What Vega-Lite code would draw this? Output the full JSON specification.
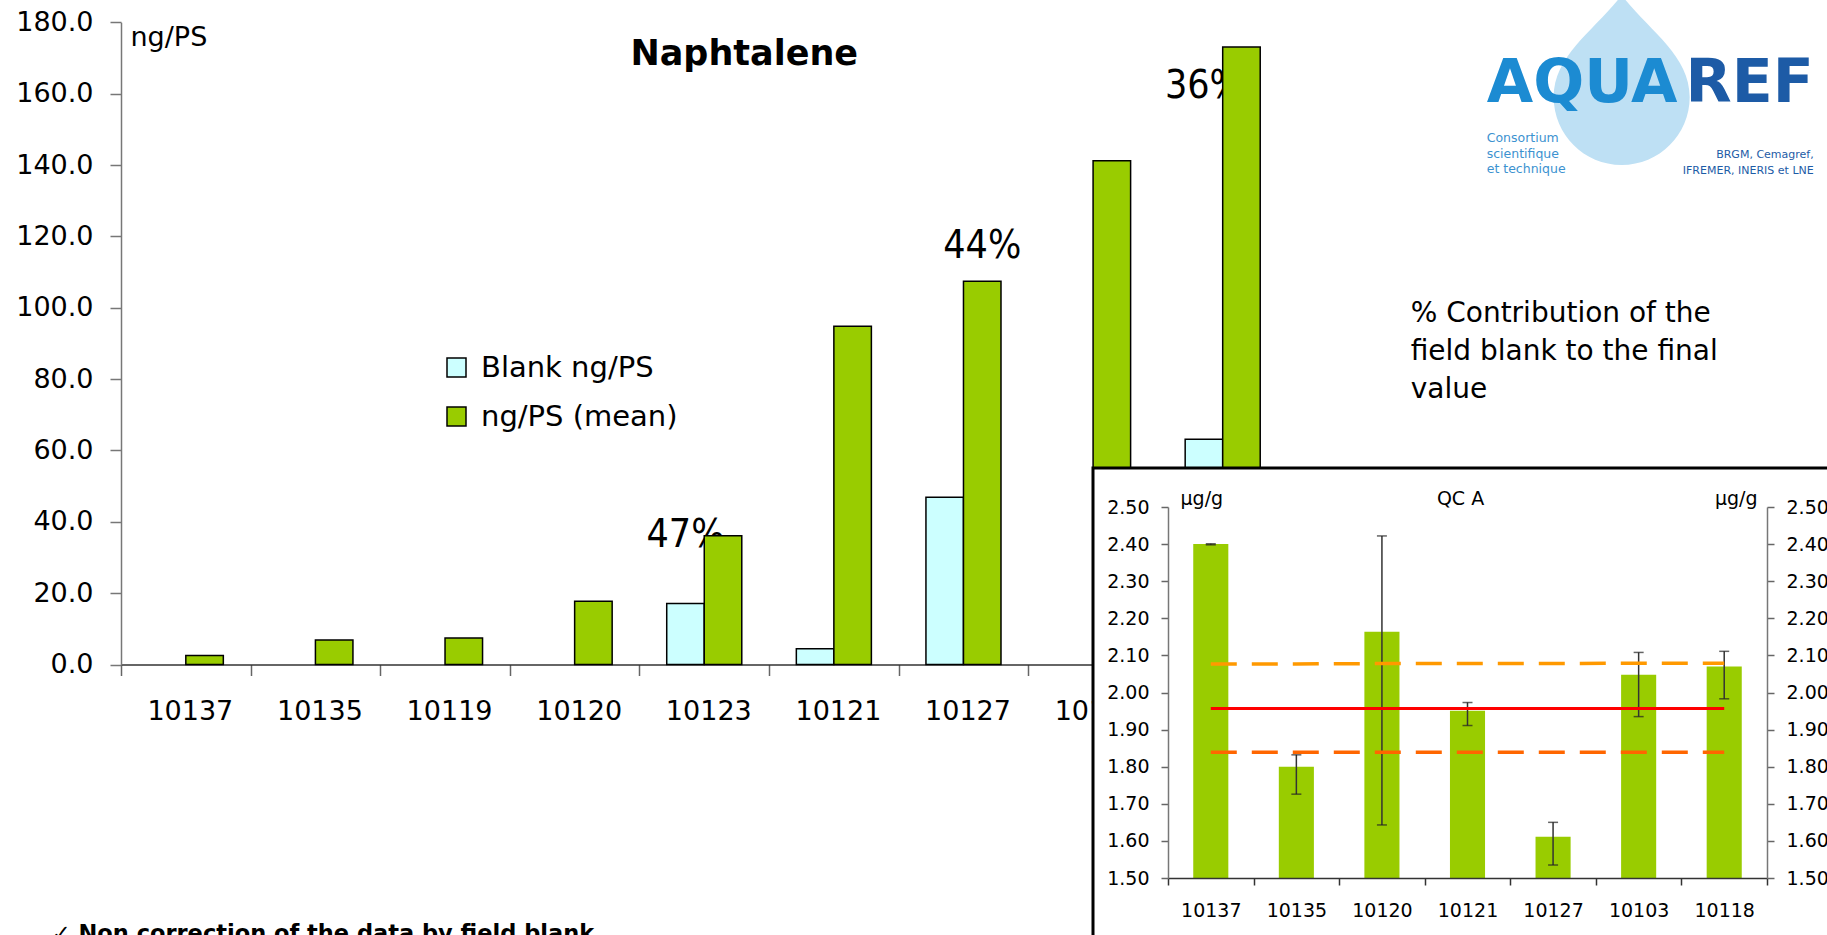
{
  "$schema": "https://vega.github.io/schema/vega-lite/v6.json",
  "width": 1827,
  "height": 935,
  "autosize": {"type": "none"},
  "padding": 0,
  "background": "white",
  "config": {
    "view": {"stroke": null},
    "font": "DejaVu Sans",
    "axis": {"grid": false, "labelColor": "black", "titleColor": "black", "labelFont": "DejaVu Sans", "titleFont": "DejaVu Sans", "titleFontWeight": "normal"}
  },
  "datasets": {
    "main": [
      {"cat": "10137", "series": "ng/PS (mean)", "v": 2.5},
      {"cat": "10135", "series": "ng/PS (mean)", "v": 6.9},
      {"cat": "10119", "series": "ng/PS (mean)", "v": 7.4},
      {"cat": "10120", "series": "ng/PS (mean)", "v": 17.7},
      {"cat": "10123", "series": "Blank ng/PS", "v": 17.1},
      {"cat": "10123", "series": "ng/PS (mean)", "v": 36.1},
      {"cat": "10121", "series": "Blank ng/PS", "v": 4.4},
      {"cat": "10121", "series": "ng/PS (mean)", "v": 94.8},
      {"cat": "10127", "series": "Blank ng/PS", "v": 46.9},
      {"cat": "10127", "series": "ng/PS (mean)", "v": 107.4},
      {"cat": "10103", "series": "ng/PS (mean)", "v": 141.2},
      {"cat": "10118", "series": "Blank ng/PS", "v": 63.1},
      {"cat": "10118", "series": "ng/PS (mean)", "v": 173.1}
    ],
    "inset": [
      {"cat": "10137", "v": 2.40, "lo": 2.398, "hi": 2.401},
      {"cat": "10135", "v": 1.80, "lo": 1.726, "hi": 1.832},
      {"cat": "10120", "v": 2.164, "lo": 1.643, "hi": 2.422},
      {"cat": "10121", "v": 1.951, "lo": 1.911, "hi": 1.973},
      {"cat": "10127", "v": 1.611, "lo": 1.535, "hi": 1.650},
      {"cat": "10103", "v": 2.048, "lo": 1.935, "hi": 2.108},
      {"cat": "10118", "v": 2.070, "lo": 1.983, "hi": 2.111}
    ],
    "lines": [
      {"cat": "10137", "line": "mean", "v": 1.957},
      {"cat": "10135", "line": "mean", "v": 1.957},
      {"cat": "10120", "line": "mean", "v": 1.957},
      {"cat": "10121", "line": "mean", "v": 1.957},
      {"cat": "10127", "line": "mean", "v": 1.957},
      {"cat": "10103", "line": "mean", "v": 1.957},
      {"cat": "10118", "line": "mean", "v": 1.957},
      {"cat": "10137", "line": "upper", "v": 2.077},
      {"cat": "10135", "line": "upper", "v": 2.077},
      {"cat": "10120", "line": "upper", "v": 2.078},
      {"cat": "10121", "line": "upper", "v": 2.078},
      {"cat": "10127", "line": "upper", "v": 2.078},
      {"cat": "10103", "line": "upper", "v": 2.079},
      {"cat": "10118", "line": "upper", "v": 2.079},
      {"cat": "10137", "line": "lower", "v": 1.839},
      {"cat": "10135", "line": "lower", "v": 1.839},
      {"cat": "10120", "line": "lower", "v": 1.839},
      {"cat": "10121", "line": "lower", "v": 1.839},
      {"cat": "10127", "line": "lower", "v": 1.839},
      {"cat": "10103", "line": "lower", "v": 1.839},
      {"cat": "10118", "line": "lower", "v": 1.839}
    ]
  },
  "layer": [
    {
      "layer": [
        {
          "data": {"values": [{}]},
          "mark": {"type": "point", "shape": "M0,-1 C0.3,-0.6 0.8,-0.3 0.8,0.2 A0.8,0.8 0 1 1 -0.8,0.2 C-0.8,-0.3 -0.3,-0.6 0,-1 Z", "size": 28900, "filled": true, "fill": "#BEE0F4", "strokeWidth": 0, "opacity": 1, "xOffset": 399},
          "encoding": {"x": {"datum": "10118", "type": "nominal"}, "y": {"datum": 163.8, "type": "quantitative"}}
        },
        {
          "data": {"values": [{}]},
          "mark": {"type": "text", "text": "AQUA", "font": "DejaVu Sans", "fontWeight": "bold", "fontSize": 60, "color": "#1C8BD2", "align": "left", "baseline": "alphabetic", "dx": 264},
          "encoding": {"x": {"datum": "10118", "type": "nominal"}, "y": {"datum": 157.7, "type": "quantitative"}}
        },
        {
          "data": {"values": [{}]},
          "mark": {"type": "text", "text": "REF", "font": "DejaVu Sans", "fontWeight": "bold", "fontSize": 60, "color": "#1D5BA6", "align": "right", "baseline": "alphabetic", "dx": 591},
          "encoding": {"x": {"datum": "10118", "type": "nominal"}, "y": {"datum": 157.7, "type": "quantitative"}}
        },
        {
          "data": {"values": [{}]},
          "mark": {"type": "text", "text": ["Consortium", "scientifique", "et technique"], "lineHeight": 15.8, "font": "DejaVu Sans", "fontSize": 12.5, "color": "#3C92D0", "align": "left", "baseline": "alphabetic", "dx": 264},
          "encoding": {"x": {"datum": "10118", "type": "nominal"}, "y": {"datum": 146.5, "type": "quantitative"}}
        },
        {
          "data": {"values": [{}]},
          "mark": {"type": "text", "text": ["BRGM, Cemagref,", "IFREMER, INERIS et LNE"], "lineHeight": 15.6, "font": "DejaVu Sans", "fontSize": 11, "color": "#1D5BA6", "align": "right", "baseline": "alphabetic", "dx": 591},
          "encoding": {"x": {"datum": "10118", "type": "nominal"}, "y": {"datum": 141.9, "type": "quantitative"}}
        },
        {
          "data": {"values": [{}]},
          "mark": {"type": "text", "text": "Naphtalene", "font": "DejaVu Sans", "fontWeight": "bold", "fontSize": 35, "color": "black", "align": "center", "baseline": "alphabetic", "dx": 40},
          "encoding": {"x": {"datum": "10123", "type": "nominal"}, "y": {"datum": 168, "type": "quantitative"}}
        },
        {
          "data": {"values": [{}]},
          "mark": {"type": "text", "text": ["% Contribution of the", "field blank to the final", "value"], "lineHeight": 38, "font": "DejaVu Sans", "fontSize": 28, "color": "black", "align": "left", "baseline": "alphabetic", "dx": 188},
          "encoding": {"x": {"datum": "10118", "type": "nominal"}, "y": {"datum": 96, "type": "quantitative"}}
        },
        {
          "data": {"values": [{}]},
          "mark": {"type": "text", "text": "✓ Non correction of the data by field blank", "font": "DejaVu Sans", "fontWeight": "bold", "fontSize": 22.5, "color": "black", "align": "left", "baseline": "alphabetic", "dx": -134},
          "encoding": {"x": {"datum": "10137", "type": "nominal"}, "y": {"datum": -77.5, "type": "quantitative"}}
        },
        {
          "data": {"values": [{}]},
          "mark": {"type": "text", "text": "47%", "font": "Liberation Sans Narrow, DejaVu Sans Condensed, DejaVu Sans", "fontSize": 39, "color": "black", "align": "center", "baseline": "alphabetic"},
          "encoding": {"x": {"datum": "10123", "type": "nominal"}, "xOffset": {"datum": "Blank ng/PS", "type": "nominal"}, "y": {"datum": 32.9, "type": "quantitative"}}
        },
        {
          "data": {"values": [{}]},
          "mark": {"type": "text", "text": "44%", "font": "Liberation Sans Narrow, DejaVu Sans Condensed, DejaVu Sans", "fontSize": 39, "color": "black", "align": "center", "baseline": "alphabetic"},
          "encoding": {"x": {"datum": "10127", "type": "nominal"}, "xOffset": {"datum": "ng/PS (mean)", "type": "nominal"}, "y": {"datum": 113.9, "type": "quantitative"}}
        },
        {
          "data": {"values": [{}]},
          "mark": {"type": "text", "text": "36%", "font": "Liberation Sans Narrow, DejaVu Sans Condensed, DejaVu Sans", "fontSize": 39, "color": "black", "align": "center", "baseline": "alphabetic"},
          "encoding": {"x": {"datum": "10118", "type": "nominal"}, "xOffset": {"datum": "Blank ng/PS", "type": "nominal"}, "y": {"datum": 158.7, "type": "quantitative"}}
        },
        {
          "data": {"name": "main"},
          "mark": {"type": "bar", "stroke": "black", "strokeWidth": 1.5},
          "encoding": {
            "x": {
              "field": "cat", "type": "nominal", "sort": null,
              "scale": {"domain": ["10137", "10135", "10119", "10120", "10123", "10121", "10127", "10103", "10118"], "range": [121, 1287.5], "paddingInner": 0, "paddingOuter": 0},
              "axis": {"orient": "bottom", "offset": -270.5, "title": null, "labelAngle": 0, "tickBand": "extent", "tickSize": 11, "tickColor": "#666666", "tickWidth": 1.5, "domainColor": "#333333", "domainWidth": 1.5, "labelFontSize": 27, "labelPadding": 36, "labelOffset": 47, "zindex": 0}
            },
            "xOffset": {"field": "series", "type": "nominal", "scale": {"domain": ["Blank ng/PS", "ng/PS (mean)"], "paddingOuter": 0.727, "paddingInner": 0}},
            "y": {
              "field": "v", "type": "quantitative",
              "scale": {"domain": [0, 180], "range": [664.5, 22.3], "nice": false, "zero": true},
              "axis": {"orient": "left", "offset": -121, "values": [0, 20, 40, 60, 80, 100, 120, 140, 160, 180], "format": ".1f", "tickSize": 11, "tickColor": "#777777", "tickWidth": 1.5, "domainColor": "#777777", "domainWidth": 1.5, "labelFontSize": 27, "labelPadding": 17, "title": "ng/PS", "titleAngle": 0, "titleAlign": "left", "titleBaseline": "alphabetic", "titleX": 9, "titleY": 45, "titleFontSize": 27, "zindex": 0}
            },
            "fill": {
              "field": "series", "type": "nominal",
              "scale": {"domain": ["Blank ng/PS", "ng/PS (mean)"], "range": ["#CCFFFF", "#99CC00"]},
              "legend": {"title": null, "orient": "none", "legendX": 442, "legendY": 353, "symbolType": "square", "symbolSize": 361, "symbolStrokeColor": "black", "symbolStrokeWidth": 1.5, "labelFontSize": 29, "labelFont": "DejaVu Sans", "labelColor": "black", "labelLimit": 500, "rowPadding": 19, "labelOffset": 10, "padding": 0}
            }
          }
        }
      ]
    },
    {
      "data": {"values": [{}]},
      "mark": {"type": "rect", "fill": "white", "stroke": "black", "strokeWidth": 3},
      "encoding": {
        "x": {"datum": 0, "type": "quantitative", "scale": {"domain": [0, 1], "range": [1093, 1845], "nice": false, "zero": false}, "axis": null},
        "x2": {"datum": 1},
        "y": {"datum": 0, "type": "quantitative", "scale": {"domain": [0, 1], "range": [468, 950], "nice": false, "zero": false}, "axis": null},
        "y2": {"datum": 1}
      }
    },
    {
      "layer": [
        {
          "encoding": {
            "x": {
              "field": "cat", "type": "nominal", "sort": null,
              "scale": {"domain": ["10137", "10135", "10120", "10121", "10127", "10103", "10118"], "range": [1168, 1767], "paddingInner": 0, "paddingOuter": 0},
              "axis": {"orient": "bottom", "offset": -57, "title": null, "labelAngle": 0, "tickBand": "extent", "tickSize": 7, "tickColor": "#333333", "tickWidth": 1.5, "domainColor": "#333333", "domainWidth": 1.5, "labelFontSize": 19, "labelPadding": 16, "zindex": 1}
            }
          },
          "layer": [
            {
              "data": {"name": "inset"},
              "mark": {"type": "bar", "width": {"band": 0.41}, "color": "#99CC00"},
              "encoding": {
                "y": {
                  "field": "v", "type": "quantitative",
                  "scale": {"domain": [1.5, 2.5], "range": [878, 507], "nice": false, "zero": false},
                  "axis": {"orient": "left", "offset": -1168, "values": [1.5, 1.6, 1.7, 1.8, 1.9, 2.0, 2.1, 2.2, 2.3, 2.4, 2.5], "format": ".2f", "tickSize": 7, "tickColor": "#666666", "tickWidth": 1.5, "domainColor": "#777777", "domainWidth": 1.5, "labelFontSize": 19, "labelPadding": 12, "title": "µg/g", "titleAngle": 0, "titleAlign": "left", "titleBaseline": "alphabetic", "titleX": 12, "titleY": 504, "titleFontSize": 19, "zindex": 1}
                },
                "y2": {"datum": 1.5}
              }
            },
            {
              "data": {"name": "inset"},
              "mark": {"type": "rule", "color": "#333333", "strokeWidth": 1.5},
              "encoding": {"y": {"field": "lo", "type": "quantitative"}, "y2": {"field": "hi"}}
            },
            {
              "data": {"name": "inset"},
              "mark": {"type": "tick", "color": "#222222", "thickness": 1.5, "size": 10},
              "encoding": {"y": {"field": "lo", "type": "quantitative"}}
            },
            {
              "data": {"name": "inset"},
              "mark": {"type": "tick", "color": "#222222", "thickness": 1.5, "size": 10},
              "encoding": {"y": {"field": "hi", "type": "quantitative"}}
            },
            {
              "data": {"values": [{}]},
              "mark": {"type": "text", "text": "QC A", "fontSize": 19, "color": "black", "align": "center", "baseline": "alphabetic", "dy": -2, "dx": -7},
              "encoding": {"x": {"datum": "10121", "type": "nominal"}, "y": {"datum": 2.5, "type": "quantitative"}}
            }
          ]
        },
        {
          "data": {"name": "lines"},
          "encoding": {
            "x": {"field": "cat", "type": "nominal", "sort": null},
            "y": {
              "field": "v", "type": "quantitative",
              "scale": {"domain": [1.5, 2.5], "range": [878, 507], "nice": false, "zero": false},
              "axis": {"orient": "right", "offset": -60, "values": [1.5, 1.6, 1.7, 1.8, 1.9, 2.0, 2.1, 2.2, 2.3, 2.4, 2.5], "format": ".2f", "tickSize": 7, "tickColor": "#666666", "tickWidth": 1.5, "domainColor": "#777777", "domainWidth": 1.5, "labelFontSize": 19, "labelPadding": 12, "title": "µg/g", "titleAngle": 0, "titleAlign": "right", "titleBaseline": "alphabetic", "titleX": -10, "titleY": 504, "titleFontSize": 19, "zindex": 1}
            }
          },
          "layer": [
            {"transform": [{"filter": "datum.line === 'upper'"}], "mark": {"type": "line", "color": "#FF9900", "strokeWidth": 3.5, "strokeDash": [26, 15]}},
            {"transform": [{"filter": "datum.line === 'lower'"}], "mark": {"type": "line", "color": "#FF6600", "strokeWidth": 3.5, "strokeDash": [26, 15]}},
            {"transform": [{"filter": "datum.line === 'mean'"}], "mark": {"type": "line", "color": "#FF0000", "strokeWidth": 3}}
          ]
        }
      ],
      "resolve": {"scale": {"y": "independent"}}
    }
  ],
  "resolve": {"scale": {"x": "independent", "y": "independent"}}
}
